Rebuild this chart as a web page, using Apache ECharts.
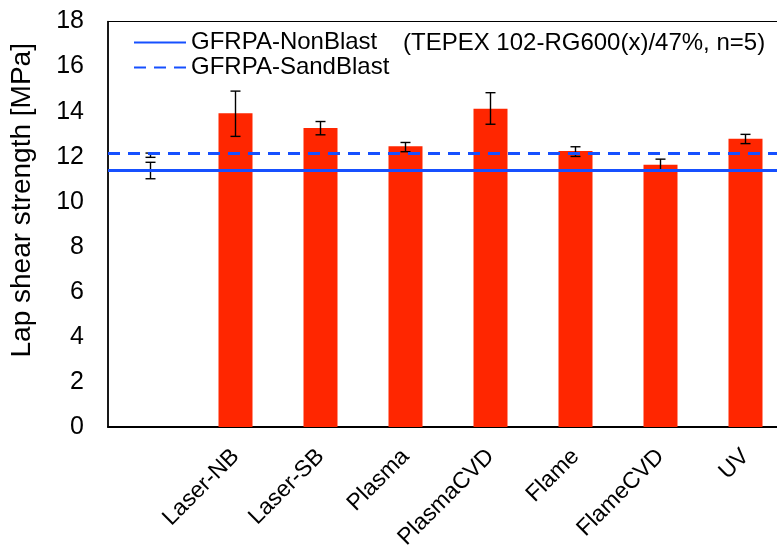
<!DOCTYPE html>
<html><head><meta charset="utf-8">
<script src="https://cdn.jsdelivr.net/npm/echarts@6/dist/echarts.min.js"></script>
<style>html,body{margin:0;padding:0;background:#fff}#c{width:777px;height:549px}</style>
</head><body><div id="c"></div>
<script>
const categories = ['', 'Laser-NB', 'Laser-SB', 'Plasma', 'PlasmaCVD', 'Flame', 'FlameCVD', 'UV'];
const barValues = ['-', 13.93, 13.27, 12.46, 14.13, 12.25, 11.64, 12.80];
const errX    = [0, 0, 1, 2, 3, 4, 5, 6, 7];
const errLow  = [11.02, 11.97, 12.90, 12.97, 12.22, 13.44, 12.01, 11.39, 12.58];
const errHigh = [11.75, 12.16, 14.91, 13.56, 12.63, 14.84, 12.44, 11.89, 12.99];
const nonBlast = 11.39;
const sandBlast = 12.13;
const yTicks = [0, 2, 4, 6, 8, 10, 12, 14, 16, 18];

const FONT = 'Liberation Sans, Arial, sans-serif';
const BLUE = '#1650ff';
const errData = errX.map((x, i) => [x, errLow[i], errHigh[i]]);

const chart = echarts.init(document.getElementById('c'), null, {renderer: 'canvas'});
chart.setOption({
  animation: false,
  backgroundColor: '#fff',
  textStyle: {fontFamily: FONT},
  title: {
    text: '(TEPEX 102-RG600(x)/47%, n=5)',
    left: 403, top: 31, padding: 0,
    textStyle: {fontFamily: FONT, fontSize: 24, fontWeight: 'normal', color: '#000'}
  },
  legend: {
    orient: 'vertical', left: 133, top: 30, padding: 0,
    itemWidth: 52, itemHeight: 14, itemGap: 0,
    itemStyle: {opacity: 0},
    textStyle: {fontFamily: FONT, fontSize: 24, color: '#000', lineHeight: 25},
    data: ['GFRPA-NonBlast', 'GFRPA-SandBlast']
  },
  grid: {left: 108, top: 21.5, width: 680, height: 405.5, outerBoundsMode: 'none', containLabel: false,
    show: true, borderColor: '#000', borderWidth: 1.2, backgroundColor: 'transparent'},
  xAxis: {
    type: 'category', data: categories,
    axisLine: {lineStyle: {color: '#000', width: 2}},
    axisTick: {show: false},
    axisLabel: {rotate: 45, interval: 0, margin: 26, fontFamily: FONT, fontSize: 23, color: '#000'}
  },
  yAxis: {
    type: 'value', min: yTicks[0], max: yTicks[yTicks.length - 1], interval: 2,
    name: 'Lap shear strength [MPa]', nameLocation: 'middle', nameGap: 72,
    nameTextStyle: {fontFamily: FONT, fontSize: 28, color: '#000', padding: [0, 0, 0, 48]},
    axisLine: {show: true, lineStyle: {color: '#000', width: 1.5}},
    axisTick: {show: false},
    splitLine: {show: false},
    axisLabel: {fontFamily: FONT, fontSize: 25, color: '#000', margin: 24}
  },
  series: [
    {
      type: 'bar', data: barValues, barWidth: 34, z: 2,
      itemStyle: {color: '#ff2600'}, silent: true
    },
    {
      type: 'custom', data: errData, z: 3, silent: true,
      renderItem: function (params, api) {
        const lo = api.coord([api.value(0), api.value(1)]);
        const hi = api.coord([api.value(0), api.value(2)]);
        const st = {stroke: '#000', lineWidth: 1.4};
        const hw = 5;
        return {type: 'group', children: [
          {type: 'line', shape: {x1: lo[0], y1: lo[1], x2: hi[0], y2: hi[1]}, style: st},
          {type: 'line', shape: {x1: lo[0] - hw, y1: lo[1], x2: lo[0] + hw, y2: lo[1]}, style: st},
          {type: 'line', shape: {x1: hi[0] - hw, y1: hi[1], x2: hi[0] + hw, y2: hi[1]}, style: st}
        ]};
      }
    },
    {
      name: 'GFRPA-NonBlast', type: 'line', data: [], symbol: 'none', z: 4,
      lineStyle: {color: BLUE, width: 3, type: 'solid'}, itemStyle: {color: BLUE},
      markLine: {silent: true, symbol: 'none', label: {show: false},
        lineStyle: {color: BLUE, width: 3, type: 'solid'}, data: [{yAxis: nonBlast}]}
    },
    {
      name: 'GFRPA-SandBlast', type: 'line', data: [], symbol: 'none', z: 4,
      lineStyle: {color: BLUE, width: 3, type: [12, 8]}, itemStyle: {color: BLUE},
      markLine: {silent: true, symbol: 'none', label: {show: false},
        lineStyle: {color: BLUE, width: 3, type: [12, 8]}, data: [{yAxis: sandBlast}]}
    }
  ]
});
</script></body></html>
